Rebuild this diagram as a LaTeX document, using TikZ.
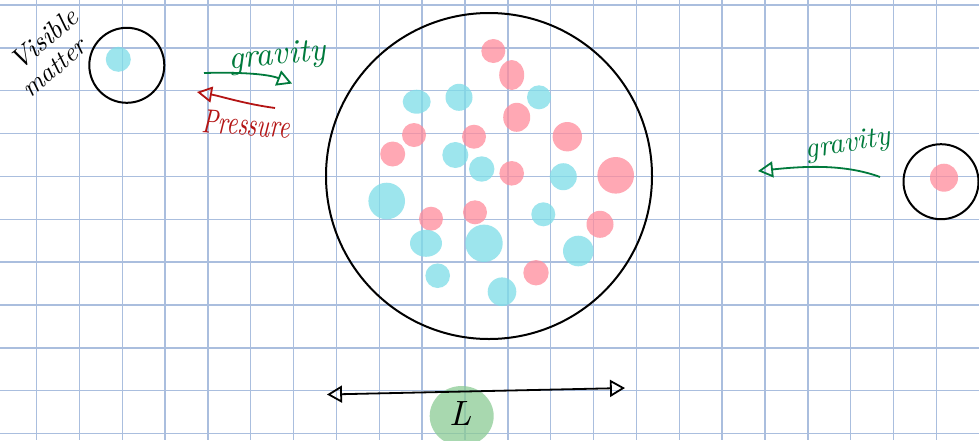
\documentclass[tikz,border=0pt]{standalone}
\usepackage{graphicx}
\usetikzlibrary{arrows.meta}
\definecolor{gridc}{RGB}{170,190,222}
\definecolor{pinkd}{RGB}{255,139,155}
\definecolor{cyand}{RGB}{125,221,232}
\definecolor{greenb}{RGB}{139,203,149}
\definecolor{gtext}{RGB}{0,122,60}
\definecolor{rtext}{RGB}{180,20,20}
\tikzset{
  gridline/.style={draw=gridc, line width=1.4pt},
  ring/.style={draw=black, line width=2pt},
  pdot/.style={fill=pinkd, fill opacity=0.75},
  cdot/.style={fill=cyand, fill opacity=0.75},
  hand/.style={font=\itshape, inner sep=0pt},
  opentip/.style={-{Triangle[open,length=15pt,width=16pt]}, line width=1.8pt},
  bothtips/.style={{Triangle[open,length=15pt,width=17pt]}-{Triangle[open,length=15pt,width=17pt]}, line width=1.8pt}
}
\begin{document}
\begin{tikzpicture}[x=1pt,y=-1pt]
\useasboundingbox (0,0) rectangle (979,440);
\fill[white] (0,0) rectangle (979,440);
% grid
\foreach \k in {0,...,21} \draw[gridline] ({36.5+42.85*\k},0) -- ({36.5+42.85*\k},440);
\foreach \k in {0,...,10} \draw[gridline] (0,{5+42.85*\k}) -- (979,{5+42.85*\k});
% left small system
\fill[cdot] (118.3,59.3) circle (12.5pt);
\draw[ring] (126.8,65.3) circle (37.5pt);
\node[hand, rotate=40] (vis) at (44,39) {\resizebox{80pt}{!}{Visible}};
\node[hand, rotate=40] (mat) at (54,68) {\resizebox{76pt}{!}{matter}};
% right small system
\fill[pdot] (944,177.7) circle (14pt);
\draw[ring] (941,181.7) circle (37.5pt);
% big cloud
\draw[ring] (489,176) circle (163pt);
% pink dots
\fill[pdot] (493.3,51) circle (12pt);
\fill[pdot] (511.7,75) circle [x radius=12.5pt, y radius=15pt];
\fill[pdot] (516.7,117.3) circle [x radius=13.5pt, y radius=14.5pt];
\fill[pdot] (414,135) circle (12pt);
\fill[pdot] (474,136.7) circle (12pt);
\fill[pdot] (567.3,136.7) circle (14.7pt);
\fill[pdot] (392.7,154) circle (12.5pt);
\fill[pdot] (511.7,173.3) circle (12.3pt);
\fill[pdot] (615.7,175.3) circle (18.3pt);
\fill[pdot] (431,218.7) circle (12pt);
\fill[pdot] (475,212.3) circle (12pt);
\fill[pdot] (600,224.3) circle (13.5pt);
\fill[pdot] (536,272.7) circle (12.7pt);
% cyan dots
\fill[cdot] (416.7,101.7) circle [x radius=14pt, y radius=12pt];
\fill[cdot] (459,97.3) circle (13.5pt);
\fill[cdot] (539,97.3) circle (12pt);
\fill[cdot] (455.3,155) circle (13pt);
\fill[cdot] (481.7,169) circle (12.7pt);
\fill[cdot] (563.3,176.7) circle (13.5pt);
\fill[cdot] (386.7,201) circle (18.3pt);
\fill[cdot] (543.3,214.3) circle (12pt);
\fill[cdot] (426,243.3) circle [x radius=16pt, y radius=13.5pt];
\fill[cdot] (484,243.3) circle (18.7pt);
\fill[cdot] (578.3,251) circle (15.3pt);
\fill[cdot] (437.7,275.7) circle (12.3pt);
\fill[cdot] (502,291.7) circle (14.3pt);
% left arrows
\coordinate (g1s) at (204,73);
\coordinate (g1e) at (292,83.5);
\draw[opentip, draw=gtext] (g1s) .. controls (240,72) and (268,74) .. (g1e);
\node[hand, text=gtext, rotate=6] (grav1) at (277,57) {\resizebox{98pt}{!}{gravity}};
\coordinate (p1s) at (275,108);
\coordinate (p1e) at (197,92);
\draw[opentip, draw=rtext] (p1s) .. controls (245,104) and (220,96) .. (p1e);
\node[hand, text=rtext, rotate=-4] (pres) at (246,124) {\resizebox{88pt}{23pt}{Pressure}};
% right arrow
\coordinate (g2s) at (880,177);
\coordinate (g2e) at (758,171);
\draw[opentip, draw=gtext] (g2s) .. controls (845,164) and (805,166) .. (g2e);
\node[hand, text=gtext, rotate=10] (grav2) at (848,145) {\resizebox{86pt}{!}{gravity}};
% length arrow
\fill[greenb, fill opacity=0.75] (461.7,416) circle [x radius=32pt, y radius=30pt];
\coordinate (ls) at (327,394.5);
\coordinate (le) at (625,388);
\draw[bothtips] (ls) -- (le);
\node[hand, inner sep=0pt] (len) at (461,413) {\resizebox{!}{24pt}{L}};
\end{tikzpicture}
\end{document}
